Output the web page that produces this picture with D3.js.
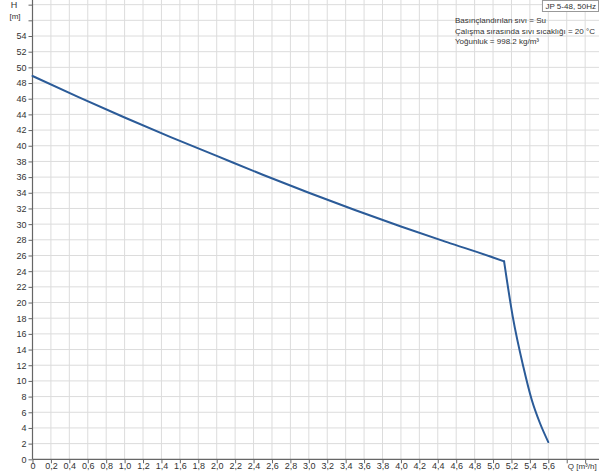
<!DOCTYPE html>
<html><head><meta charset="utf-8">
<script src="https://cdn.jsdelivr.net/npm/d3@7"></script>
<style>body{margin:0;background:#fff}svg{display:block;font-family:"Liberation Sans",Arial,sans-serif}</style>
</head><body>
<svg id="c" width="600" height="473"></svg>
<script>
const qValues = [0, 0.5, 1.0, 1.5, 2.0, 2.5, 3.0, 3.5, 4.0, 4.5, 5.0, 5.12, 5.214, 5.329, 5.42, 5.51, 5.6];
const hValues = [48.9, 46.2, 43.6, 41.1, 38.7, 36.3, 34.0, 31.8, 29.7, 27.7, 25.75, 25.25, 18.2, 11.8, 7.6, 4.6, 2.2];
const kneeIndex = 11;
const xTicks = [0,0.2,0.4,0.6,0.8,1.0,1.2,1.4,1.6,1.8,2.0,2.2,2.4,2.6,2.8,3.0,3.2,3.4,3.6,3.8,4.0,4.2,4.4,4.6,4.8,5.0,5.2,5.4,5.6];
const xGrid = [...xTicks, 5.8, 6.0];
const yTicks = [0,2,4,6,8,10,12,14,16,18,20,22,24,26,28,30,32,34,36,38,40,42,44,46,48,50,52,54];
const yGrid = [...yTicks, 56, 58];
const infoLines = ["Basınçlandırılan sıvı = Su", "Çalışma sırasında sıvı sıcaklığı = 20 °C", "Yoğunluk = 998.2 kg/m³"];
const legendLabel = "JP 5-48, 50Hz";

(function () {
const svg = d3.select("#c");
const x = d3.scaleLinear().domain([0, 5.6]).range([32.5, 548.3]);
const y = d3.scaleLinear().domain([0, 54]).range([459.3, 36]);
const pLeft = 32.5, pRight = 599, pTop = 0, pBottom = 459.3;

svg.append("g").selectAll("line").data(xGrid.slice(1)).join("line")
  .attr("x1", d => x(d)).attr("x2", d => x(d)).attr("y1", pTop).attr("y2", pBottom)
  .attr("stroke", "#dcdcdc").attr("stroke-width", 1);
svg.append("g").selectAll("line").data(yGrid.slice(1)).join("line")
  .attr("x1", pLeft).attr("x2", pRight).attr("y1", d => y(d)).attr("y2", d => y(d))
  .attr("stroke", "#dcdcdc").attr("stroke-width", 1);

const fmt = d => d === 0 ? "0" : d3.format(".1f")(d).replace(".", ",");
const xAxis = svg.append("g").attr("transform", `translate(0,${pBottom})`)
  .call(d3.axisBottom(x).tickValues(xGrid).tickFormat(d => d > 5.6 ? "" : fmt(d)).tickSize(4).tickSizeOuter(0));
const yAxis = svg.append("g").attr("transform", `translate(${pLeft},0)`)
  .call(d3.axisLeft(y).tickValues(yGrid).tickFormat(d => d > 54 ? "" : d).tickSize(4).tickSizeOuter(0));
[xAxis, yAxis].forEach(a => {
  a.select(".domain").attr("stroke", "#666").attr("stroke-width", 1.2);
  a.selectAll(".tick line").attr("stroke", "#666");
  a.selectAll("text").attr("fill", "#333").attr("font-size", 9).attr("font-family", "Liberation Sans, Arial, sans-serif");
});
xAxis.select(".domain").attr("d", `M${pLeft},0H${pRight}`);
yAxis.select(".domain").attr("d", `M0,${pBottom}V${pTop}`);
yAxis.selectAll(".tick text").attr("x", -6);
xAxis.selectAll(".tick text").attr("y", 3.5).attr("dy", "0.71em");

svg.append("text").attr("x", 14).attr("y", 7.5).attr("font-size", 9).attr("fill", "#333").attr("text-anchor", "middle").text("H");
svg.append("text").attr("x", 15).attr("y", 18.5).attr("font-size", 8).attr("fill", "#333").attr("text-anchor", "middle").text("[m]");
svg.append("text").attr("x", x(5.8) + 1).attr("y", pBottom + 10).attr("font-size", 8).attr("fill", "#333").text("Q [m³/h]");

const pts = qValues.map((q, i) => [q, hValues[i]]);
const line = d3.line().x(d => x(d[0])).y(d => y(d[1])).curve(d3.curveMonotoneX);
[pts.slice(0, kneeIndex + 1), pts.slice(kneeIndex)].forEach(seg => {
  svg.append("path").datum(seg).attr("d", line)
    .attr("fill", "none").attr("stroke", "#2b5b98").attr("stroke-width", 2)
    .attr("stroke-linejoin", "round").attr("stroke-linecap", "round");
});

const info = svg.append("g");
infoLines.forEach((t, i) => {
  info.append("text").attr("x", 455).attr("y", 23 + i * 10.5).attr("font-size", 8).attr("fill", "#333").text(t);
});

const lg = svg.append("g");
const lt = lg.append("text").attr("x", 596).attr("y", 8.5).attr("font-size", 8).attr("fill", "#333")
  .attr("text-anchor", "end").text(legendLabel);
const bb = lt.node().getBBox();
lg.insert("rect", "text").attr("x", bb.x - 3).attr("y", 0.5).attr("width", bb.width + 5.5).attr("height", 11)
  .attr("fill", "#fff").attr("stroke", "#999");
})();
</script>
</body></html>
